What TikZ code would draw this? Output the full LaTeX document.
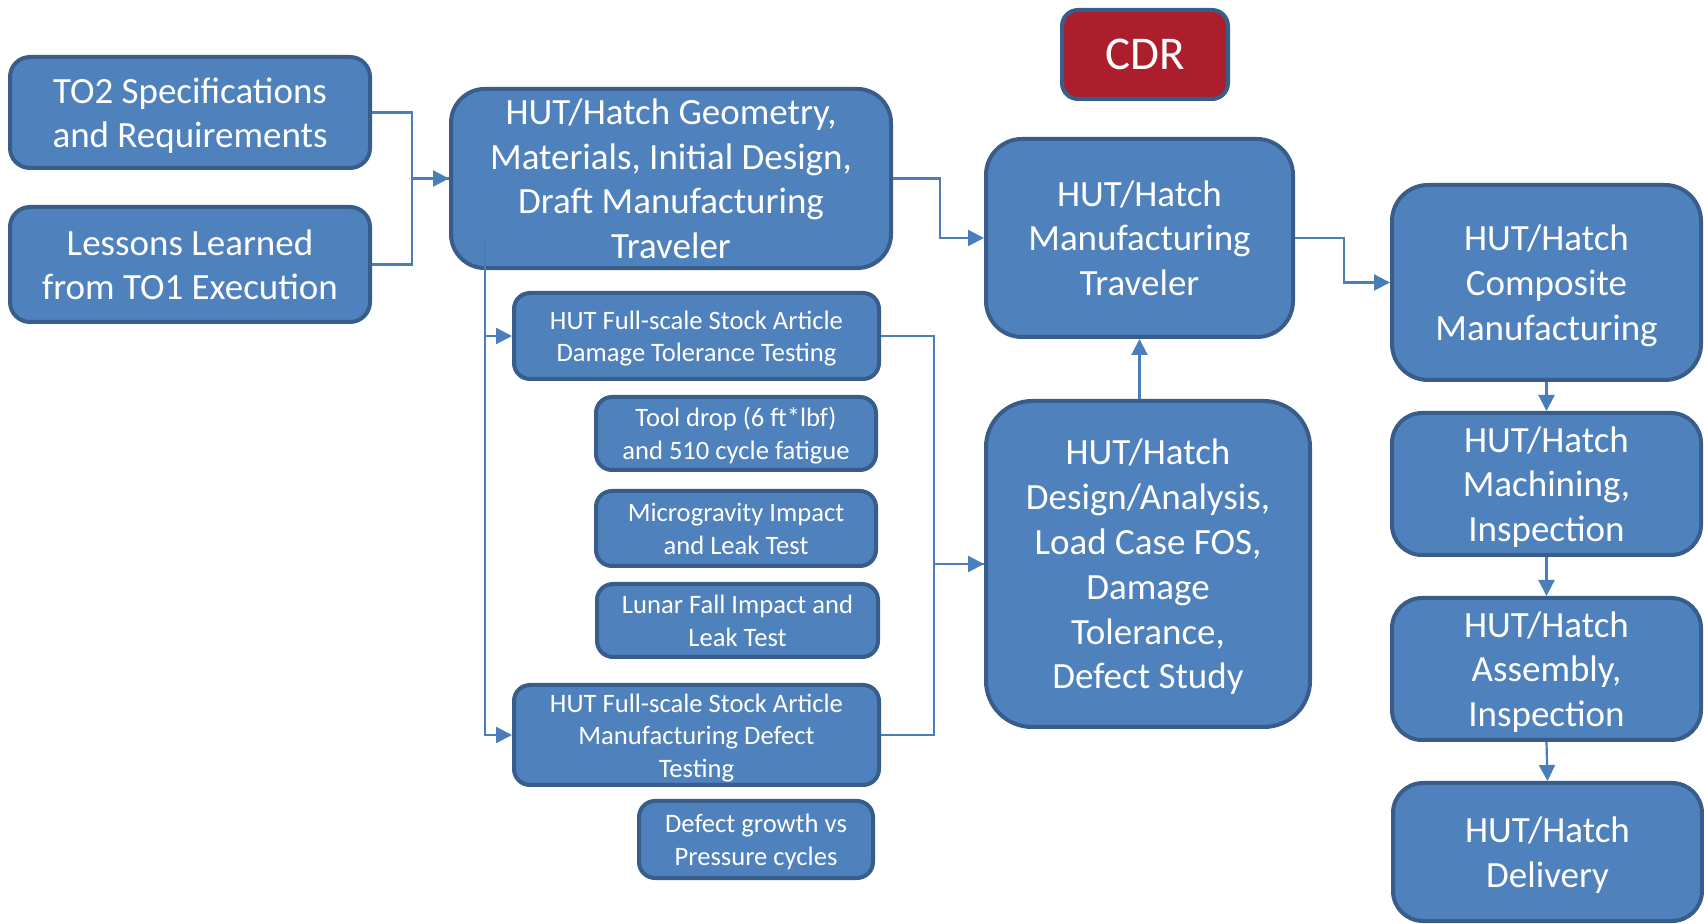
\documentclass[tikz,border=0pt]{standalone}
\usepackage{fontspec}
\setmainfont{Carlito}
\usetikzlibrary{arrows.meta,calc}
\definecolor{boxfill}{HTML}{4F81BD}
\definecolor{boxline}{HTML}{385D8A}
\definecolor{conn}{HTML}{4A7EBB}
\definecolor{cdrfill}{HTML}{AD1E2C}
\newcommand\bigtx[1]{\raisebox{-2pt}[\height][\depth]{\begin{tabular}{@{}c@{}}#1\end{tabular}}}
\newcommand\smalltx[1]{\raisebox{-1.6pt}[\height][\depth]{\begin{tabular}{@{}c@{}}#1\end{tabular}}}
\tikzset{
  box/.style={draw=boxline, line width=2pt, fill=boxfill, text=white, inner sep=0pt, rounded corners=#1},
  box/.default=10pt,
  big/.style={font=\fontsize{18.5}{22.4}\selectfont},
  small/.style={font=\fontsize{13.3}{16.2}\selectfont},
  conline/.style={draw=conn, line width=1.1pt},
  arr/.style={conline, -{Triangle[length=8pt,width=8pt]}},
}
\begin{document}
\begin{tikzpicture}[x=0.5pt,y=-0.5pt]
\useasboundingbox (0,0) rectangle (1704,924);

% left inputs
\node[box=10pt, big, minimum width=180pt, minimum height=55.5pt] (to2) at (190,112.5) {\bigtx{TO2 Specifications\\and Requirements}};
\node[box=10pt, big, minimum width=180pt, minimum height=57.5pt] (les) at (190,264.5) {\bigtx{Lessons Learned\\from TO1 Execution}};

% main design box
\node[box=17pt, big, minimum width=220pt, minimum height=88.5pt] (main) at (671,178.5) {\bigtx{HUT/Hatch Geometry,\\Materials, Initial Design,\\Draft Manufacturing\\Traveler}};

% test boxes
\node[box=8pt, small, minimum width=182.5pt, minimum height=43pt] (dt) at (696.5,336) {\smalltx{HUT Full-scale Stock Article\\Damage Tolerance Testing}};
\node[box=8pt, small, minimum width=140pt, minimum height=36.5pt] (tool) at (736,433.5) {\smalltx{Tool drop (6 ft*lbf)\\and 510 cycle fatigue}};
\node[box=8pt, small, minimum width=140pt, minimum height=37.5pt] (micro) at (736,528.5) {\smalltx{Microgravity Impact\\and Leak Test}};
\node[box=8pt, small, minimum width=140.5pt, minimum height=36.5pt] (lunar) at (737.5,620.5) {\smalltx{Lunar Fall Impact and\\Leak Test}};
\node[box=8pt, small, minimum width=182.5pt, minimum height=50pt] (mfg) at (696.5,735) {\smalltx{HUT Full-scale Stock Article\\Manufacturing Defect\\Testing}};
\node[box=8pt, small, minimum width=117pt, minimum height=38.5pt] (growth) at (756,839.5) {\smalltx{Defect growth vs\\Pressure cycles}};

% CDR
\node[box=8pt, fill=cdrfill, font=\fontsize{23.5}{28}\selectfont, minimum width=83pt, minimum height=44.5pt] (cdr) at (1145,54.5) {CDR};

% centre column
\node[box=18pt, big, minimum width=153.5pt, minimum height=99pt] (trav) at (1139.5,238) {\bigtx{HUT/Hatch\\Manufacturing\\Traveler}};
\node[box=23pt, big, minimum width=162pt, minimum height=163pt] (design) at (1148,564) {\bigtx{HUT/Hatch\\Design/Analysis,\\Load Case FOS,\\Damage\\Tolerance,\\Defect Study}};

% right column
\node[box=18pt, big, minimum width=154.5pt, minimum height=97.5pt] (comp) at (1546.5,282.5) {\bigtx{HUT/Hatch\\Composite\\Manufacturing}};
\node[box=15pt, big, minimum width=154.5pt, minimum height=71pt] (mach) at (1546.5,484) {\bigtx{HUT/Hatch\\Machining,\\Inspection}};
\node[box=15pt, big, minimum width=154.5pt, minimum height=71pt] (asm) at (1546.5,669) {\bigtx{HUT/Hatch\\Assembly,\\Inspection}};
\node[box=15pt, big, minimum width=154.5pt, minimum height=69pt] (deliv) at (1547.5,852) {\bigtx{HUT/Hatch\\Delivery}};

% connectors
\draw[conline] (les.east) -- ++(40,0) |- (main.west);
\draw[arr] (to2.east) -- ++(40,0) |- (main.west);

\coordinate (vtop) at ([shift={(36,-33)}]main.south west);
\draw[arr] (vtop) |- (dt.west);
\draw[arr] (vtop) |- (mfg.west);

\draw[conline] (mfg.east) -- ++(53,0) |- (design.west);
\draw[arr] (dt.east) -- ++(53,0) |- (design.west);

\draw[arr] (main.east) -- ++(47,0) |- (trav.west);
\draw[arr] (trav.south |- design.north) -- (trav.south);
\draw[arr] (trav.east) -- ++(49,0) |- (comp.west);

\draw[arr] (comp.south) -- (mach.north);
\draw[arr] (mach.south) -- (asm.north);
\draw[arr] (asm.south) -- (deliv.north);
\end{tikzpicture}
\end{document}
